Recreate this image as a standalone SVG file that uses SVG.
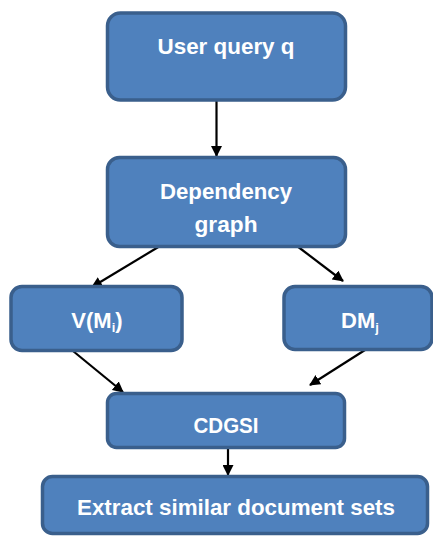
<svg xmlns="http://www.w3.org/2000/svg" width="433" height="536" viewBox="0 0 433 536">
<defs>
<marker id="ah" markerWidth="11" markerHeight="11" refX="10" refY="5.5" orient="auto" markerUnits="userSpaceOnUse"><path d="M0,0 L11,5.5 L0,11 z" fill="#000"/></marker>
<style>
.box{fill:#4F81BD;stroke:#3A5F8C;stroke-width:3.5}
.t{fill:#fff;font-family:"Liberation Sans",Arial,sans-serif;font-weight:bold;font-size:22px;text-anchor:middle}
.c{stroke:#000;stroke-width:2.2;fill:none;marker-end:url(#ah)}
</style>
</defs>
<rect width="433" height="536" fill="#fff"/>
<g id="connectors">
<line class="c" x1="216.5" y1="101" x2="216.5" y2="156"/>
<line class="c" x1="160" y1="246" x2="92" y2="287"/>
<line class="c" x1="297" y1="246" x2="343" y2="281"/>
<line class="c" x1="73" y1="351" x2="123" y2="392"/>
<line class="c" x1="365" y1="350" x2="310" y2="385"/>
<line class="c" x1="228" y1="448" x2="228" y2="475"/>
</g>
<g id="user-query">
<rect class="box" x="107.5" y="13" width="238" height="87" rx="13"/>
<text class="t" x="226" y="54" textLength="137" lengthAdjust="spacingAndGlyphs">User query q</text>
</g>
<g id="dependency-graph">
<rect class="box" x="107.5" y="157.5" width="238" height="89" rx="12"/>
<text class="t" x="226" y="199" textLength="132" lengthAdjust="spacingAndGlyphs">Dependency</text>
<text class="t" x="226" y="232" textLength="63" lengthAdjust="spacingAndGlyphs">graph</text>
</g>
<g id="v-mi">
<rect class="box" x="11" y="286.5" width="171" height="64" rx="11"/>
<text class="t" x="97" y="328">V(M<tspan font-size="13" dy="4">i</tspan><tspan dy="-4">)</tspan></text>
</g>
<g id="dm-j">
<rect class="box" x="284" y="286.5" width="148" height="63" rx="11"/>
<text class="t" x="360" y="328">DM<tspan font-size="13" dy="4">j</tspan></text>
</g>
<g id="cdgsi">
<rect class="box" x="107.5" y="393.5" width="237" height="54" rx="9"/>
<text class="t" x="226" y="433" textLength="65" lengthAdjust="spacingAndGlyphs">CDGSI</text>
</g>
<g id="extract">
<rect class="box" x="42.5" y="476.5" width="385" height="57" rx="10"/>
<text class="t" x="236" y="515" textLength="318" lengthAdjust="spacingAndGlyphs">Extract similar document sets</text>
</g>
</svg>
